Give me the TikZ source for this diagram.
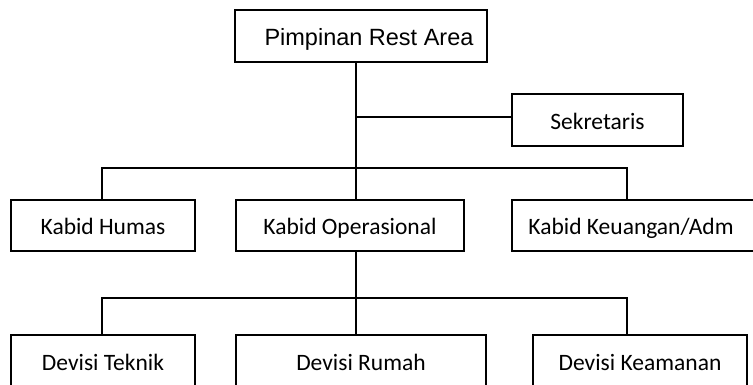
\documentclass[tikz,border=0pt]{standalone}
\usepackage{fontspec}
\setmainfont{Carlito}
\newfontfamily\arialfont{Liberation Sans}
\tikzstyle{unit} = [rectangle, minimum height=51pt, text centered, text height=24pt, text depth=5pt, draw=black, line width=1.4pt, inner sep=0pt, font=\fontsize{23.5}{28}\selectfont]
\tikzstyle{head} = [unit, minimum height=52pt, font=\arialfont\fontsize{23.5}{28}\selectfont]
\tikzstyle{link} = [line width=1.4pt]
\begin{document}
\begin{tikzpicture}[x=1pt,y=-1pt]
\useasboundingbox (0,0) rectangle (753,385);

\node [head, minimum width=252pt] (pimpinan) at (361,36) {\hspace*{16pt}Pimpinan Rest Area};
\node [unit, minimum width=171pt, minimum height=52pt] (sekretaris) at (597.5,120) {Sekretaris};

\node [unit, minimum width=184pt] (humas) at (103,225.5) {Kabid Humas};
\node [unit, minimum width=228pt] (operasional) at (350,225.5) {Kabid Operasional};
\node [unit, minimum width=244pt] (keuangan) at (634,225.5) {\hspace*{-6pt}Kabid Keuangan/Adm};

\node [unit, minimum width=184pt] (teknik) at (103,360.5) {Devisi Teknik};
\node [unit, minimum width=250pt] (rumah) at (361,360.5) {Devisi Rumah};
\node [unit, minimum width=214pt] (keamanan) at (640,360.5) {Devisi Keamanan};

\coordinate (sek_branch) at (356,117);
\coordinate (kabid_left) at (102,168);
\coordinate (kabid_right) at (627,168);
\coordinate (devisi_left) at (102,298);
\coordinate (devisi_right) at (627,298);

\draw [link] (sek_branch |- pimpinan.south) -- (sek_branch |- operasional.north);
\draw [link] (sek_branch) -- (sek_branch -| sekretaris.west);
\draw [link] (humas.north -| kabid_left) -- (kabid_left) -- (kabid_right) -- (keuangan.north -| kabid_right);
\draw [link] (sek_branch |- operasional.south) -- (sek_branch |- rumah.north);
\draw [link] (teknik.north -| devisi_left) -- (devisi_left) -- (devisi_right) -- (keamanan.north -| devisi_right);

\end{tikzpicture}
\end{document}
